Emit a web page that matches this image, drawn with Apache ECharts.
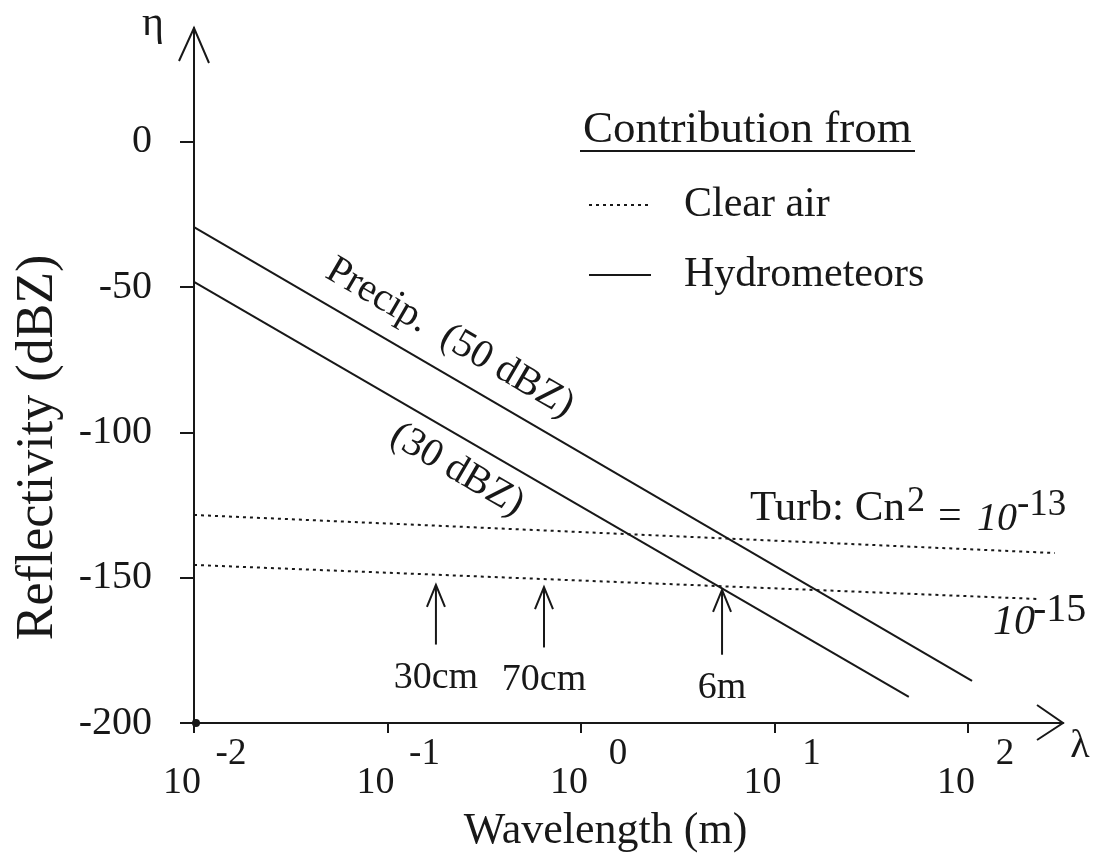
<!DOCTYPE html>
<html><head><meta charset="utf-8">
<script src="https://cdn.jsdelivr.net/npm/echarts@6/dist/echarts.min.js"></script>
<style>html,body{margin:0;padding:0;background:#fff}#c{width:1093px;height:861px}</style>
</head><body><div id="c"></div>
<script>
// ---- data ----
const xTicks = [0.01, 0.1, 1, 10, 100];
const yTicks = [-200, -150, -100, -50, 0];
const xRange = [0.01, 310];
const yRange = [-200, 39.2];
const precip50 = [[0.01, -29.3], [105, -185.5]];
const precip30 = [[0.01, -48.2], [49.5, -191]];
const turb13 = [[0.01, -128.4], [281, -141.5]];
const turb15 = [[0.01, -145.6], [227, -157.3]];
const markerNames = ['30cm', '70cm', '6m'];
const markerX = [0.178, 0.644, 5.36];
const markerTipY = [-152.5, -153.2, -154.2];
const markerBaseY = [-173, -174, -176.5];

const FONT = 'Liberation Serif';
const INK = '#181818';

const chart = echarts.init(document.getElementById('c'), null, {renderer: 'canvas'});

const solid = {color: INK, width: 2};
const dotted = {color: INK, width: 2, type: [3, 4]};

const series = [
  {name: 'Hydrometeors', type: 'line', data: precip50, symbol: 'none', lineStyle: solid, itemStyle: {color: INK}, silent: true, z: 3},
  {name: 'Hydrometeors', type: 'line', data: precip30, symbol: 'none', lineStyle: solid, itemStyle: {color: INK}, silent: true, z: 3},
  {name: 'Clear air', type: 'line', data: turb13, symbol: 'none', lineStyle: dotted, itemStyle: {color: INK}, silent: true, z: 2},
  {name: 'Clear air', type: 'line', data: turb15, symbol: 'none', lineStyle: dotted, itemStyle: {color: INK}, silent: true, z: 2}
].concat(markerNames.map((n, i) => ({
  name: 'marker' + i, type: 'line', symbol: 'circle', symbolSize: 0, silent: true,
  lineStyle: {color: INK, width: 2}, itemStyle: {color: INK},
  data: [
    {value: [markerX[i], markerBaseY[i]],
     label: {show: true, formatter: n, position: 'bottom', distance: 14,
             fontFamily: FONT, fontSize: 38, color: INK}},
    [markerX[i], markerTipY[i]]
  ]
})));

const tickFont = {fontFamily: FONT, color: INK};
const option = {
  backgroundColor: '#fff',
  animation: false,
  grid: {left: 194, right: 30, top: 28, bottom: 138, containLabel: false},
  legend: {
    data: ['Clear air', 'Hydrometeors'], orient: 'vertical', left: 583, top: 175,
    itemWidth: 62, itemHeight: 20, itemGap: 20, selectedMode: false,
    itemStyle: {opacity: 0},
    textStyle: {fontFamily: FONT, fontSize: 42, color: INK, lineHeight: 50, padding: [0, 0, 0, 28]}
  },
  xAxis: {
    type: 'log', logBase: 10, min: xRange[0], max: xRange[1],
    axisLine: {show: true, onZero: false, lineStyle: {color: INK, width: 2}},
    axisTick: {show: true, customValues: xTicks, length: 10, lineStyle: {color: INK, width: 2}},
    minorTick: {show: false}, splitLine: {show: false},
    axisLabel: {
      customValues: xTicks, margin: 22,
      formatter: v => '{l| }{g| }{e|' + Math.round(Math.log10(v)) + '}\n{l| }{b|10}{r| }',
      rich: {
        l: Object.assign({fontSize: 36, lineHeight: 18, width: 32}, tickFont),
        g: Object.assign({fontSize: 38, lineHeight: 18, width: 42}, tickFont),
        e: Object.assign({fontSize: 37, lineHeight: 18, width: 56, align: 'left'}, tickFont),
        b: Object.assign({fontSize: 38, lineHeight: 40, width: 42, align: 'left'}, tickFont),
        r: Object.assign({fontSize: 36, lineHeight: 40, width: 56}, tickFont)
      }
    },
    name: 'Wavelength (m)', nameLocation: 'middle', nameGap: 86,
    nameTextStyle: {fontFamily: FONT, fontSize: 44, color: INK, padding: [0, 46, 0, 0]}
  },
  yAxis: {
    type: 'value', min: yRange[0], max: yRange[1],
    axisLine: {show: true, onZero: false, lineStyle: {color: INK, width: 2}},
    axisTick: {show: true, customValues: yTicks, length: 14, lineStyle: {color: INK, width: 2}},
    splitLine: {show: false},
    axisLabel: {customValues: yTicks, margin: 42, fontFamily: FONT, fontSize: 40, color: INK},
    name: 'Reflectivity (dBZ)', nameLocation: 'middle', nameGap: 130, nameRotate: 90,
    nameTextStyle: {fontFamily: FONT, fontSize: 52, color: INK, padding: [0, 144, 0, 0]}
  },
  series: series
};
chart.setOption(option);

// ---- decorations positioned through the chart's own scales ----
const px = p => chart.convertToPixel({gridIndex: 0}, p);
const chevron = (tip, a, b) => ({
  type: 'polyline', z: 20, silent: true,
  shape: {points: [[tip[0] + a[0], tip[1] + a[1]], tip, [tip[0] + b[0], tip[1] + b[1]]]},
  style: {stroke: INK, lineWidth: 2, fill: null}
});
const txt = (text, x, y, fs, extra) => ({
  type: 'text', x: x, y: y, z: 20, silent: true,
  style: Object.assign({text: text, fontFamily: FONT, fontSize: fs, fill: INK, align: 'left', verticalAlign: 'middle'}, (extra || {}))
});

const g = [];
const yTop = px([xRange[0], yRange[1]]);
g.push(chevron(yTop, [-15, 33], [15, 35]));
const xEnd = px([xRange[1], yRange[0]]);
g.push(chevron(xEnd, [-26, -18], [-26, 17]));
const origin = px([xRange[0], yRange[0]]);
g.push({type: 'circle', z: 21, silent: true, shape: {cx: origin[0] + 2, cy: origin[1], r: 4}, style: {fill: INK}});
markerX.forEach((mx, i) => {
  const tip = px([mx, markerTipY[i]]);
  g.push(chevron(tip, [-9, 22], [9, 22]));
});
g.push(txt('η', 153, 24, 42, {align: 'center'}));
g.push(txt('λ', 1080, 746, 40, {align: 'center'}));
g.push(txt('Contribution from', 583, 130, 45));
g.push({type: 'line', z: 20, silent: true, shape: {x1: 580, y1: 151, x2: 915, y2: 151}, style: {stroke: INK, lineWidth: 2}});
const ang = -0.528;
g.push(Object.assign(txt('Precip.  (50 dBZ)', 450, 338, 40, {align: 'center'}), {rotation: ang}));
g.push(Object.assign(txt('(30 dBZ)', 457, 470, 40, {align: 'center'}), {rotation: ang}));
g.push(txt('Turb: Cn', 750, 509, 43));
g.push(txt('2', 907, 502, 36));
g.push(txt('=', 938, 517, 42));
g.push(txt('10', 977, 519, 40, {fontStyle: 'italic'}));
g.push(txt('-13', 1017, 505, 37));
g.push(txt('10', 993, 623, 42, {fontStyle: 'italic'}));
g.push(txt('-15', 1033, 610, 40));
chart.setOption({graphic: g});
</script>
</body></html>
